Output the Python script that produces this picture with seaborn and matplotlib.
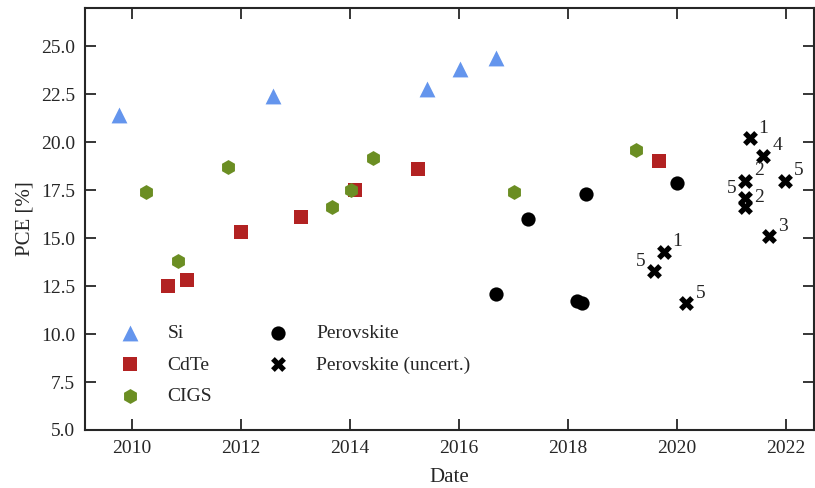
import matplotlib
matplotlib.use("Agg")
import matplotlib.pyplot as plt
import seaborn as sns
import pandas as pd
from matplotlib.ticker import FormatStrFormatter, MultipleLocator

# ---- data ----
si_date = [2009.76, 2012.59, 2015.42, 2016.01, 2016.67]
si_pce = [21.4, 22.4, 22.8, 23.8, 24.4]

cdte_date = [2010.67, 2011.01, 2012.01, 2013.10, 2014.09, 2015.25, 2019.66]
cdte_pce = [12.5, 12.8, 15.3, 16.1, 17.5, 18.6, 19.0]

cigs_date = [2010.26, 2010.84, 2011.76, 2013.67, 2014.01, 2014.42, 2017.00, 2019.24]
cigs_pce = [17.4, 13.8, 18.7, 16.6, 17.5, 19.2, 17.4, 19.6]

pero_date = [2016.67, 2017.26, 2018.16, 2018.26, 2018.33, 2020.00]
pero_pce = [12.1, 16.0, 11.7, 11.6, 17.3, 17.9]

unc_date = [2019.57, 2019.75, 2020.17, 2021.24, 2021.24, 2021.24, 2021.33, 2021.58, 2021.68, 2021.98]
unc_pce = [13.3, 14.3, 11.6, 18.0, 17.1, 16.6, 20.2, 19.3, 15.1, 18.0]
unc_note = ["5", "1", "5", "2", "5", "2", "1", "4", "3", "5"]
unc_side = ["left", "right", "right", "right", "left", "right", "right", "right", "right", "right"]

series = [
    ("Si", si_date, si_pce, "^", "#6495ED", 130),
    ("CdTe", cdte_date, cdte_pce, "s", "#B22222", 95),
    ("CIGS", cigs_date, cigs_pce, "h", "#6B8E23", 115),
    ("Perovskite", pero_date, pero_pce, "o", "black", 105),
    ("Perovskite (uncert.)", unc_date, unc_pce, "X", "black", 115),
]

sns.set_style("ticks")
plt.rcParams["font.family"] = ["Liberation Serif", "DejaVu Serif"]
plt.rcParams["mathtext.fontset"] = "stix"

fig = plt.figure(figsize=(8.15, 4.88), dpi=100)
ax = fig.add_axes([85 / 815, 58 / 488, 729 / 815, 422 / 488])

for name, xs, ys, mk, col, sz in series:
    df = pd.DataFrame({"Date": xs, "PCE": ys})
    sns.scatterplot(data=df, x="Date", y="PCE", marker=mk, color=col, s=sz,
                    linewidth=0, ax=ax, label=name)

for x, y, t, side in zip(unc_date, unc_pce, unc_note, unc_side):
    dx = 10 if side == "right" else -9.5
    ax.annotate(t, (x, y), xytext=(dx, 7), textcoords="offset points",
                ha="center", va="center", fontsize=14)

ax.set_xlim(2009.14, 2022.51)
ax.set_ylim(5, 27)
ax.xaxis.set_major_locator(MultipleLocator(2))
ax.yaxis.set_major_locator(MultipleLocator(2.5))
ax.yaxis.set_major_formatter(FormatStrFormatter("%.1f"))
ax.xaxis.set_major_formatter(FormatStrFormatter("%d"))
ax.tick_params(direction="in", length=8, width=1.3, top=True, right=True,
               labelsize=14, pad=7)
for sp in ax.spines.values():
    sp.set_linewidth(1.5)
ax.set_xlabel("Date", fontsize=15, labelpad=8)
ax.set_ylabel("PCE [%]", fontsize=15, labelpad=5)

ax.legend(ncol=2, loc="lower left", frameon=False, fontsize=14,
          handletextpad=0.95, columnspacing=2.4, labelspacing=0.7,
          borderaxespad=0.9)

fig.savefig("out.png", dpi=100)
